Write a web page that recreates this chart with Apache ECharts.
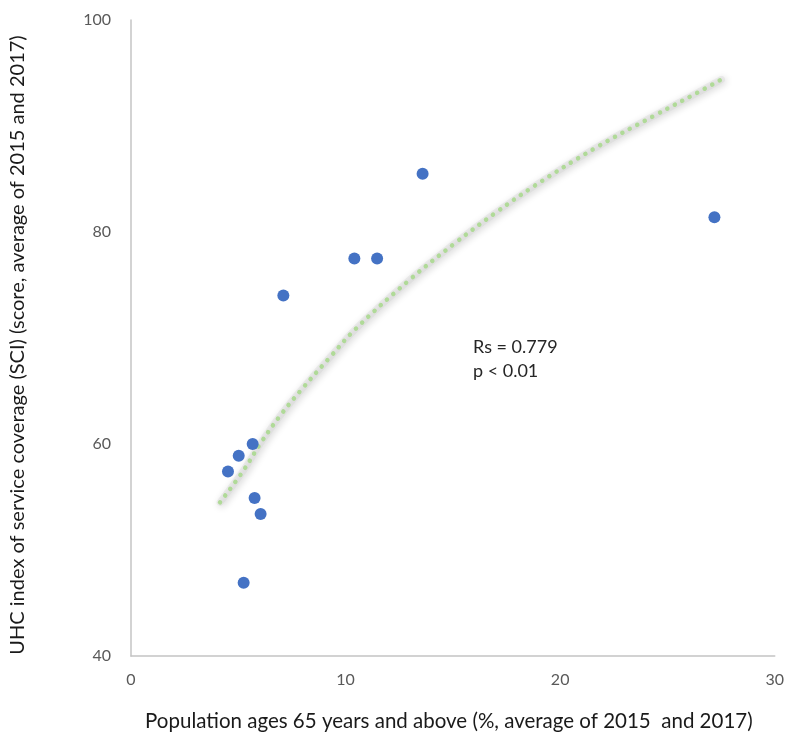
<!DOCTYPE html>
<html>
<head>
<meta charset="utf-8">
<script src="https://cdn.jsdelivr.net/npm/echarts@6/dist/echarts.min.js"></script>
<style>html,body{margin:0;padding:0;background:#fff}#c{width:787px;height:737px}</style>
</head>
<body>
<div id="c"></div>
<script>
// Scatter points: [population 65+ %, UHC SCI score]
const popAges65 = [4.52, 5.02, 5.67, 5.76, 6.04, 5.25, 7.10, 10.41, 11.47, 13.59, 27.19];
const uhcScore  = [57.4, 58.9, 60.0, 54.9, 53.4, 46.9, 74.0, 77.5, 77.5, 85.5, 81.4];
// Trendline points
const trendX = [4.15, 5.24, 6.08, 6.96, 7.89, 9.19, 10.49, 12.99, 15.13, 16.98, 18.84, 21.62, 24.41, 26.45, 27.52];
const trendY = [54.5, 57.5, 60.2, 62.7, 65.0, 68.0, 70.9, 75.5, 79.0, 81.8, 84.4, 87.9, 91.0, 93.2, 94.4];
const xTicks = [0, 10, 20, 30];
const yTicks = [40, 60, 80, 100];
const annotation = ['Rs = 0.779', 'p < 0.01'];

const scatterData = popAges65.map((x, i) => [x, uhcScore[i]]);
const trendData = trendX.map((x, i) => [x, trendY[i]]);
const font = 'Lato, "Open Sans", sans-serif';

const chart = echarts.init(document.getElementById('c'), null, {renderer: 'canvas'});
chart.setOption({
  animation: false,
  grid: {left: 126, right: 10, top: 20, bottom: 74, containLabel: false},
  xAxis: {
    type: 'value', min: xTicks[0], max: xTicks[xTicks.length - 1], interval: 10,
    name: 'Population ages 65 years and above (%, average of 2015  and 2017)',
    nameLocation: 'middle', nameGap: 55,
    nameTextStyle: {fontFamily: font, fontSize: 20.5, color: '#1a1a1a', padding: [0, 8, 0, 0]},
    axisLine: {show: true, lineStyle: {color: '#c4c4c4', width: 1.5}},
    axisTick: {show: false},
    splitLine: {show: false},
    axisLabel: {fontFamily: font, fontSize: 16, color: '#595959', margin: 16}
  },
  yAxis: {
    type: 'value', min: yTicks[0], max: yTicks[yTicks.length - 1], interval: 20,
    name: 'UHC index of service coverage (SCI) (score, average of 2015 and 2017)',
    nameLocation: 'middle', nameGap: 103, nameRotate: 90,
    nameTextStyle: {fontFamily: font, fontSize: 20, color: '#1a1a1a', padding: [0, 14, 0, 0]},
    axisLine: {show: true, lineStyle: {color: '#c4c4c4', width: 1.5}},
    axisTick: {show: false},
    splitLine: {show: false},
    axisLabel: {fontFamily: font, fontSize: 16, color: '#595959', margin: 20}
  },
  series: [
    {
      type: 'line', data: trendData, smooth: 0.4, symbol: 'none', silent: true, z: 1,
      lineStyle: {color: 'rgba(200,200,200,0.25)', width: 7, cap: 'round', shadowColor: 'rgba(0,0,0,0.6)', shadowBlur: 7, shadowOffsetX: 1.5, shadowOffsetY: 1.5}
    },
    {
      type: 'line', data: trendData, smooth: 0.4, symbol: 'none', silent: true, z: 2,
      lineStyle: {color: '#b0da98', width: 4.5, type: [0.1, 8.4], cap: 'round'}
    },
    {
      type: 'scatter', data: scatterData, symbolSize: 12, z: 3,
      itemStyle: {color: '#4472C4', opacity: 1}
    }
  ],
  graphic: [
    {type: 'text', left: 473, top: 335, style: {text: annotation.join('\n'), fontFamily: font, fontSize: 18, lineHeight: 24, fill: '#262626'}}
  ]
});
</script>
</body>
</html>
